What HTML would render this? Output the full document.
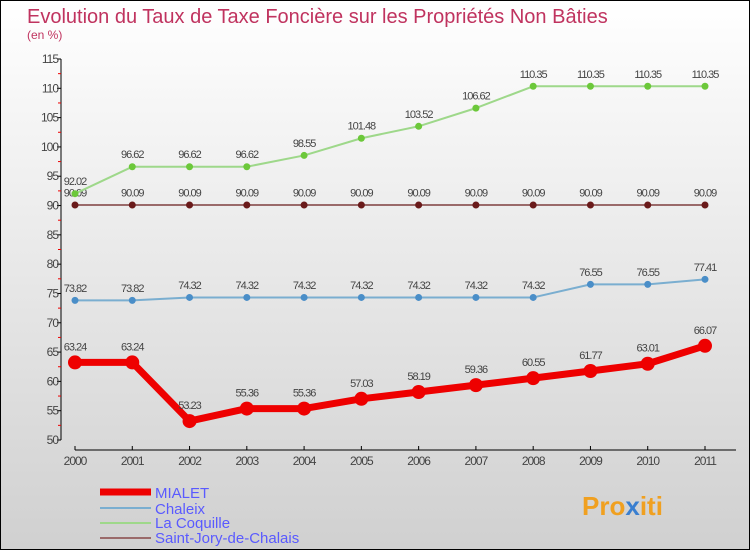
<!DOCTYPE html>
<html><head><meta charset="utf-8"><style>
body{margin:0;width:750px;height:550px;overflow:hidden;font-family:"Liberation Sans",sans-serif}
svg{display:block}
</style></head><body>
<svg id="c" width="750" height="550" xmlns="http://www.w3.org/2000/svg">
<defs><linearGradient id="bg" x1="0" y1="0" x2="0" y2="1"><stop offset="0" stop-color="#ffffff"/><stop offset="1" stop-color="#d0d0d0"/></linearGradient></defs>
<rect x="0.5" y="0.5" width="749" height="549" fill="url(#bg)" stroke="#000"/>
<text x="27" y="23" font-size="20" fill="#c0335f">Evolution du Taux de Taxe Foncière sur les Propriétés Non Bâties</text>
<text x="27" y="39" font-size="12" fill="#c0335f">(en %)</text>
<g id="axes"></g><g id="series"></g>
<g>
<line x1="100" y1="492" x2="151" y2="492" stroke="#ee0000" stroke-width="7"/>
<text x="155" y="498" font-size="15" fill="#5a5aff">MIALET</text>
<line x1="100" y1="508" x2="151" y2="508" stroke="#7aaed0" stroke-width="2"/>
<text x="155" y="514" font-size="15" fill="#5a5aff">Chaleix</text>
<line x1="100" y1="523" x2="151" y2="523" stroke="#9ed88a" stroke-width="2"/>
<text x="155" y="528" font-size="15" fill="#5a5aff">La Coquille</text>
<line x1="100" y1="538" x2="151" y2="538" stroke="#9a6a6a" stroke-width="2"/>
<text x="155" y="543" font-size="15" fill="#5a5aff">Saint-Jory-de-Chalais</text>
</g>
<g font-size="26" font-weight="bold">
<text x="582" y="515" fill="#f0a020">Pro<tspan fill="#3a7fd0">x</tspan>iti</text>
</g>
</svg>
<script>
const years=[2000,2001,2002,2003,2004,2005,2006,2007,2008,2009,2010,2011];
const mialet=[63.24,63.24,53.23,55.36,55.36,57.03,58.19,59.36,60.55,61.77,63.01,66.07];
const chaleix=[73.82,73.82,74.32,74.32,74.32,74.32,74.32,74.32,74.32,76.55,76.55,77.41];
const coquille=[92.02,96.62,96.62,96.62,98.55,101.48,103.52,106.62,110.35,110.35,110.35,110.35];
const jory=[90.09,90.09,90.09,90.09,90.09,90.09,90.09,90.09,90.09,90.09,90.09,90.09];
const yTicks=[50,55,60,65,70,75,80,85,90,95,100,105,110,115];
const NS="http://www.w3.org/2000/svg";
const x=i=>75+i*(630/11);
const y=v=>440-(v-50)*(381/65);
function mk(tag,attrs,parent){const e=document.createElementNS(NS,tag);for(const k in attrs)e.setAttribute(k,attrs[k]);parent.appendChild(e);return e;}
const ax=document.getElementById('axes'),sg=document.getElementById('series');
let a=mk('line',{x1:61,y1:y(115),x2:61,y2:y(50),stroke:'#000'},ax);


yTicks.forEach(v=>{
 let t=mk('line',{x1:57,y1:y(v),x2:61,y2:y(v),stroke:'#000'},ax);
 
 
 let m=mk('line',{x1:58,y1:y(v+2.5),x2:61,y2:y(v+2.5),stroke:'#e00'},ax);
 if(v===115)m.remove();
 
 
 let l=mk('text',{x:58,y:y(v)+4,'font-size':12,fill:'#444','text-anchor':'end','letter-spacing':'-1'},ax);
 l.textContent=v;
 
 
});
let xa=mk('line',{x1:75,y1:450,x2:736,y2:450,stroke:'#000'},ax);


years.forEach((yr,i)=>{
 let t=mk('line',{x1:x(i),y1:446,x2:x(i),y2:450,stroke:'#000'},ax);
 
 
 let l=mk('text',{x:x(i),y:465,'font-size':12,fill:'#444','text-anchor':'middle','letter-spacing':'-1'},ax);
 l.textContent=yr;
 
 
});
function series(vals,name,lc,pc,lw,r,fs){
 const g=mk('g',{},sg);
 
 
 const p=mk('polyline',{points:vals.map((v,i)=>x(i)+','+y(v)).join(' '),fill:'none',stroke:lc,'stroke-width':lw,'stroke-linejoin':'round'},g);
 
 
 vals.forEach((v,i)=>{
  const c=mk('circle',{cx:x(i),cy:y(v),r:r,fill:pc},g);
  
  
  const t=mk('text',{x:x(i),y:y(v)-(r+5),'font-size':fs,fill:'#444','text-anchor':'middle','letter-spacing':'-1'},g);
  t.textContent=v.toFixed(2);
  
  
 });
}
series(jory,'saint-jory','#9a6a6a','#6a1a1a',2,3.5,11);
series(chaleix,'chaleix','#7aaed0','#4a8ec8',2,3.5,11);
series(coquille,'la-coquille','#9ed88a','#6cc83a',2,3.5,11);
series(mialet,'mialet','#ee0000','#ee0000',7,7,11);
</script>
</body></html>
